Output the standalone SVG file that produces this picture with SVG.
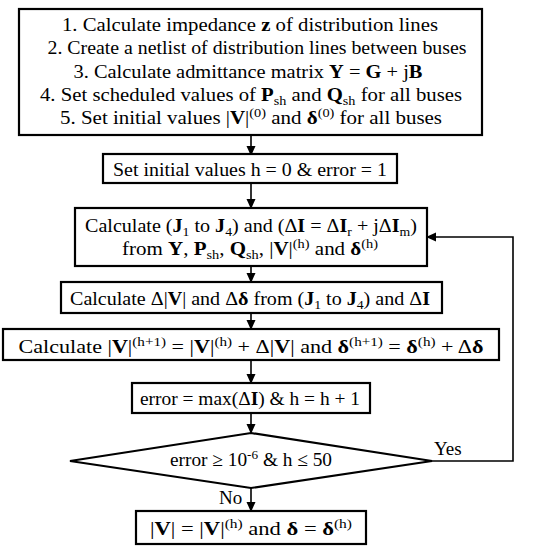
<svg xmlns="http://www.w3.org/2000/svg" width="539" height="550" viewBox="0 0 539 550">
<defs>
<style>
.box{fill:#fff;stroke:#000;stroke-width:2.2}
.ln{fill:none;stroke:#000;stroke-width:1.6}
text{font-family:"Liberation Serif","DejaVu Serif",serif;font-size:19px;fill:#000;text-anchor:middle}
.b{font-weight:bold}
.s{font-size:13px}
.lbl{text-anchor:start}
</style>
<marker id="ah" markerWidth="10" markerHeight="10" refX="9" refY="5" orient="auto" markerUnits="userSpaceOnUse">
<path d="M0,0.5 L10,5 L0,9.5 Z" fill="#000"/>
</marker>
</defs>
<rect width="539" height="550" fill="#fff"/>
<g id="connectors">
<line class="ln" x1="251" y1="135" x2="251" y2="155" marker-end="url(#ah)"/>
<line class="ln" x1="251" y1="183" x2="251" y2="208" marker-end="url(#ah)"/>
<line class="ln" x1="251" y1="266" x2="251" y2="282" marker-end="url(#ah)"/>
<line class="ln" x1="251" y1="313" x2="251" y2="329" marker-end="url(#ah)"/>
<line class="ln" x1="251" y1="360" x2="251" y2="383" marker-end="url(#ah)"/>
<line class="ln" x1="251" y1="413" x2="251" y2="433" marker-end="url(#ah)"/>
<line class="ln" x1="251" y1="488" x2="251" y2="511" marker-end="url(#ah)"/>
<polyline class="ln" points="432,461 513,461 513,237 427,237" marker-end="url(#ah)"/>
<text class="lbl" x="434" y="455">Yes</text>
<text class="lbl" x="219" y="504">No</text>
</g>
<g id="init">
<rect class="box" x="19" y="9" width="463" height="126"/>
<text x="250" y="31" textLength="376" lengthAdjust="spacingAndGlyphs">1. Calculate impedance <tspan class="b">z</tspan> of distribution lines</text>
<text x="257" y="54" textLength="419" lengthAdjust="spacingAndGlyphs">2. Create a netlist of distribution lines between buses</text>
<text x="248" y="78" textLength="349" lengthAdjust="spacingAndGlyphs">3. Calculate admittance matrix <tspan class="b">Y</tspan> = <tspan class="b">G</tspan> + j<tspan class="b">B</tspan></text>
<text x="251" y="101" textLength="422" lengthAdjust="spacingAndGlyphs">4. Set scheduled values of <tspan class="b">P</tspan><tspan class="s" baseline-shift="-4">sh</tspan> and <tspan class="b">Q</tspan><tspan class="s" baseline-shift="-4">sh</tspan> for all buses</text>
<text x="251" y="124" textLength="382" lengthAdjust="spacingAndGlyphs">5. Set initial values |<tspan class="b">V</tspan>|<tspan class="s" baseline-shift="7">(0)</tspan> and <tspan class="b">δ</tspan><tspan class="s" baseline-shift="7">(0)</tspan> for all buses</text>
</g>
<g id="setinit">
<rect class="box" x="103" y="154" width="294" height="29"/>
<text x="250" y="176" textLength="274" lengthAdjust="spacingAndGlyphs">Set initial values h = 0 &amp; error = 1</text>
</g>
<g id="jacobian">
<rect class="box" x="75" y="208" width="352" height="58"/>
<text x="251" y="232" textLength="332" lengthAdjust="spacingAndGlyphs">Calculate (<tspan class="b">J</tspan><tspan class="s" baseline-shift="-4">1</tspan> to <tspan class="b">J</tspan><tspan class="s" baseline-shift="-4">4</tspan>) and (Δ<tspan class="b">I</tspan> = Δ<tspan class="b">I</tspan><tspan class="s" baseline-shift="-4">r</tspan> + jΔ<tspan class="b">I</tspan><tspan class="s" baseline-shift="-4">m</tspan>)</text>
<text x="250" y="255" textLength="256" lengthAdjust="spacingAndGlyphs">from <tspan class="b">Y</tspan>, <tspan class="b">P</tspan><tspan class="s" baseline-shift="-4">sh</tspan>, <tspan class="b">Q</tspan><tspan class="s" baseline-shift="-4">sh</tspan>, |<tspan class="b">V</tspan>|<tspan class="s" baseline-shift="7">(h)</tspan> and <tspan class="b">δ</tspan><tspan class="s" baseline-shift="7">(h)</tspan></text>
</g>
<g id="delta">
<rect class="box" x="61" y="282" width="381" height="31"/>
<text x="250" y="305" textLength="360" lengthAdjust="spacingAndGlyphs">Calculate Δ|<tspan class="b">V</tspan>| and Δ<tspan class="b">δ</tspan> from (<tspan class="b">J</tspan><tspan class="s" baseline-shift="-4">1</tspan> to <tspan class="b">J</tspan><tspan class="s" baseline-shift="-4">4</tspan>) and Δ<tspan class="b">I</tspan></text>
</g>
<g id="update">
<rect class="box" x="3" y="329" width="496" height="31"/>
<text x="251" y="353" textLength="465" lengthAdjust="spacingAndGlyphs">Calculate |<tspan class="b">V</tspan>|<tspan class="s" baseline-shift="7">(h+1)</tspan> = |<tspan class="b">V</tspan>|<tspan class="s" baseline-shift="7">(h)</tspan> + Δ|<tspan class="b">V</tspan>| and <tspan class="b">δ</tspan><tspan class="s" baseline-shift="7">(h+1)</tspan> = <tspan class="b">δ</tspan><tspan class="s" baseline-shift="7">(h)</tspan> + Δ<tspan class="b">δ</tspan></text>
</g>
<g id="error">
<rect class="box" x="132" y="383" width="238" height="30"/>
<text x="250" y="405" textLength="220" lengthAdjust="spacingAndGlyphs">error = max(Δ<tspan class="b">I</tspan>) &amp; h = h + 1</text>
</g>
<g id="decision">
<polygon class="box" points="251,433 432,461 251,488 70,461"/>
<text x="251" y="466" textLength="162" lengthAdjust="spacingAndGlyphs">error ≥ 10<tspan class="s" baseline-shift="7">-6</tspan> &amp; h ≤ 50</text>
</g>
<g id="result">
<rect class="box" x="136" y="511" width="230" height="33"/>
<text x="251" y="535" textLength="202" lengthAdjust="spacingAndGlyphs">|<tspan class="b">V</tspan>| = |<tspan class="b">V</tspan>|<tspan class="s" baseline-shift="7">(h)</tspan> and <tspan class="b">δ</tspan> = <tspan class="b">δ</tspan><tspan class="s" baseline-shift="7">(h)</tspan></text>
</g>
</svg>
